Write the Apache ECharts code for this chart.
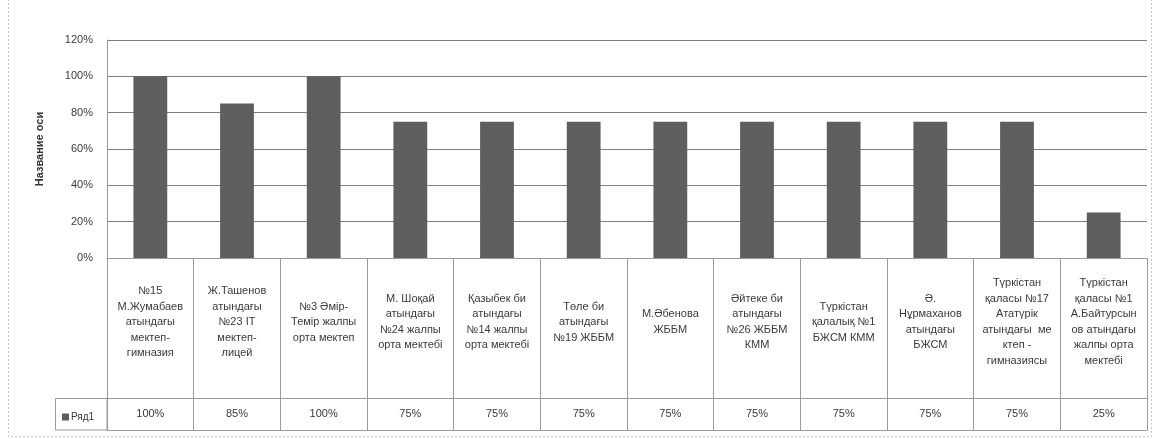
<!DOCTYPE html>
<html>
<head>
<meta charset="utf-8">
<script src="https://cdn.jsdelivr.net/npm/echarts@6/dist/echarts.min.js"></script>
<style>
  html, body { margin: 0; padding: 0; background: #fff; }
  #chart { width: 1154px; height: 439px; }
</style>
</head>
<body>
<div id="chart"></div>
<script>
const categories = [
  '№15\nМ.Жумабаев\nатындағы\nмектеп-\nгимназия',
  'Ж.Ташенов\nатындағы\n№23 IT\nмектеп-\nлицей',
  '№3 Әмір-\nТемір жалпы\nорта мектеп',
  'М. Шоқай\nатындағы\n№24 жалпы\nорта мектебі',
  'Қазыбек би\nатындағы\n№14 жалпы\nорта мектебі',
  'Төле би\nатындағы\n№19 ЖББМ',
  'М.Әбенова\nЖББМ',
  'Әйтеке би\nатындағы\n№26 ЖББМ\nКММ',
  'Түркістан\nқалалық №1\nБЖСМ КММ',
  'Ә.\nНұрмаханов\nатындағы\nБЖСМ',
  'Түркістан\nқаласы №17\nАтатүрік\nатындағы  ме\nктеп -\nгимназиясы',
  'Түркістан\nқаласы №1\nА.Байтурсын\nов атындағы\nжалпы орта\nмектебі'
];
const values = [1.00, 0.85, 1.00, 0.75, 0.75, 0.75, 0.75, 0.75, 0.75, 0.75, 0.75, 0.25];
const seriesName = 'Ряд1';
const axisTitle = 'Название оси';

const FONT = "'Liberation Sans', Arial, sans-serif";
const LINE = '#9a9a9a';
const TEXT = '#3a3a3a';
const pct = v => Math.round(v * 100) + '%';

const chart = echarts.init(document.getElementById('chart'));
chart.setOption({
  animation: false,
  textStyle: { fontFamily: FONT, color: TEXT },
  grid: { left: 107, right: 7, top: 40, bottom: 181 },
  legend: {
    left: 57, top: 407,
    icon: 'rect', itemWidth: 7, itemHeight: 7, itemGap: 2,
    textStyle: { fontSize: 10, color: TEXT, padding: [0, 0, 0, -3] },
    data: [seriesName]
  },
  xAxis: [
    {
      // category names: first block of the data table, ticks act as cell borders
      type: 'category', data: categories, position: 'bottom',
      axisLine: { show: true, lineStyle: { color: LINE } },
      axisTick: { show: true, alignWithLabel: false, length: 140, lineStyle: { color: LINE } },
      axisLabel: {
        interval: 0, margin: 64, verticalAlign: 'middle',
        fontSize: 11, lineHeight: 15.5, color: TEXT, align: 'center'
      }
    },
    {
      // value row of the data table
      type: 'category', data: values.map(pct), position: 'bottom', offset: 140,
      axisLine: { show: true, lineStyle: { color: LINE } },
      axisTick: { show: true, alignWithLabel: false, length: 32, lineStyle: { color: LINE } },
      axisLabel: { interval: 0, margin: 16, verticalAlign: 'middle', fontSize: 11, color: TEXT }
    },
    {
      type: 'category', data: values.map(() => ''), position: 'bottom', offset: 172,
      axisLine: { show: true, lineStyle: { color: LINE } },
      axisTick: { show: false }, axisLabel: { show: false }
    }
  ],
  yAxis: {
    type: 'value', min: 0, max: 1.2, interval: 0.2,
    name: axisTitle, nameLocation: 'middle', nameRotate: 90, nameGap: 62,
    nameTextStyle: { fontSize: 11, fontWeight: 'bold', color: '#333' },
    axisLine: { show: true, lineStyle: { color: LINE } },
    axisTick: { show: false },
    axisLabel: { formatter: pct, fontSize: 11, color: TEXT, margin: 14 },
    splitLine: { lineStyle: { color: '#7e7e7e', width: 1 } }
  },
  series: [{
    name: seriesName, type: 'bar', data: values,
    barWidth: '39%',
    itemStyle: { color: '#5e5e5e' }
  }],
  graphic: [
    {
      // legend key cell of the data table
      type: 'rect', silent: true,
      shape: { x: 55.5, y: 398.5, width: 51.5, height: 31.5 },
      style: { fill: 'none', stroke: LINE, lineWidth: 1 }
    },
    {
      type: 'rect', silent: true,
      shape: { x: 8.5, y: -2, width: 1143, height: 438.5 },
      style: { fill: 'none', stroke: '#c8c8c8', lineWidth: 1, lineDash: [2, 2] }
    }
  ]
});
</script>
</body>
</html>
